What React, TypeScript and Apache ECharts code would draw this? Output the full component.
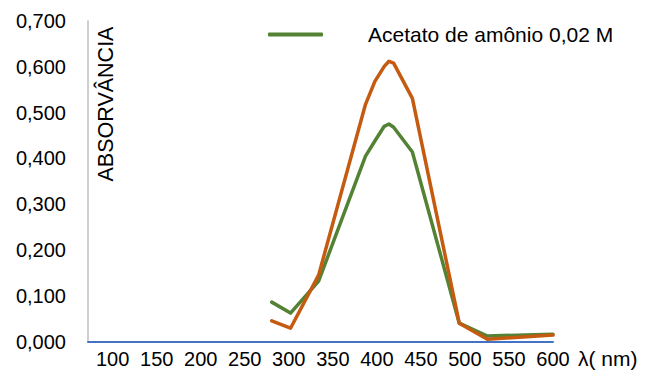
import React, { useEffect, useRef } from "react";
import * as echarts from "echarts";

const wavelengths = [300, 320, 350, 400, 410, 420, 425, 430, 450, 500, 530, 600];
const acetatoValues = [0.086, 0.062, 0.132, 0.405, 0.438, 0.47, 0.475, 0.468, 0.414, 0.04, 0.012, 0.016];
const serie2Values = [0.045, 0.029, 0.145, 0.518, 0.568, 0.601, 0.612, 0.608, 0.531, 0.04, 0.005, 0.014];
const xTickLabels = [100, 150, 200, 250, 300, 350, 400, 450, 500, 550, 600];
const yTicks = [0, 0.1, 0.2, 0.3, 0.4, 0.5, 0.6, 0.7];

const FONT = "Liberation Sans, Arial, sans-serif";

export default function App() {
  const ref = useRef<HTMLDivElement>(null);
  useEffect(() => {
    if (!ref.current) return;
    const chart = echarts.init(ref.current, undefined, { renderer: "svg" });
    chart.setOption({
      animation: false,
      backgroundColor: "#ffffff",
      textStyle: { fontFamily: FONT },
      grid: { left: 88, right: 102, top: 21, bottom: 34.5, containLabel: false },
      legend: {
        data: ["Acetato de amônio 0,02 M"],
        left: 263,
        top: 19,
        icon: "roundRect",
        itemWidth: 55,
        itemHeight: 4,
        textStyle: { fontSize: 21, color: "#000", fontFamily: FONT, padding: [0, 0, 0, 40] },
      },
      xAxis: [
        {
          type: "value",
          min: 104,
          max: 600,
          show: false,
        },
        {
          type: "value",
          min: 72,
          max: 600,
          position: "bottom",
          axisLine: { show: true, onZero: false, lineStyle: { color: "#4472C4", width: 2 } },
          axisTick: { show: false },
          splitLine: { show: false },
          axisLabel: {
            customValues: xTickLabels,
            fontSize: 20,
            color: "#000",
            fontFamily: FONT,
            margin: 7,
          },
        },
      ],
      yAxis: {
        type: "value",
        min: 0,
        max: 0.7,
        interval: 0.1,
        axisLine: { show: true, lineStyle: { color: "#BFBFBF", width: 1.5 } },
        axisTick: { show: false },
        splitLine: { show: false },
        axisLabel: {
          fontSize: 20,
          color: "#000",
          fontFamily: FONT,
          margin: 22,
          customValues: yTicks,
          formatter: (v: number) => v.toFixed(3).replace(".", ","),
        },
      },
      series: [
        {
          name: "Acetato de amônio 0,02 M",
          type: "line",
          xAxisIndex: 0,
          data: wavelengths.map((x, i) => [x, acetatoValues[i]]),
          showSymbol: false,
          lineStyle: { color: "#548235", width: 3.5, join: "round", cap: "round" },
          itemStyle: { color: "#548235" },
        },
        {
          name: "Série 2",
          type: "line",
          xAxisIndex: 0,
          data: wavelengths.map((x, i) => [x, serie2Values[i]]),
          showSymbol: false,
          lineStyle: { color: "#C55A11", width: 3.5, join: "round", cap: "round" },
          itemStyle: { color: "#C55A11" },
        },
      ],
      graphic: [
        {
          type: "text",
          x: 106,
          y: 104,
          rotation: Math.PI / 2,
          style: {
            text: "ABSORVÂNCIA",
            fontSize: 21.5,
            fontFamily: FONT,
            fill: "#000",
            align: "center",
            verticalAlign: "middle",
          },
        },
        {
          type: "text",
          x: 578,
          y: 358,
          style: {
            text: "λ( nm)",
            fontSize: 21,
            fontFamily: FONT,
            fill: "#000",
            align: "left",
            verticalAlign: "middle",
          },
        },
      ],
    });
    return () => chart.dispose();
  }, []);
  return <div ref={ref} style={{ width: 655, height: 376, position: "absolute", left: 0, top: 0 }} />;
}
